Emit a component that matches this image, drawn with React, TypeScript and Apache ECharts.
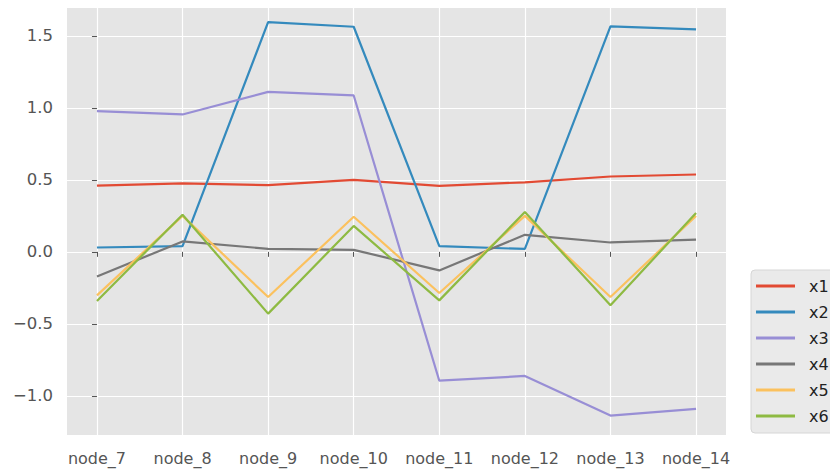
import React, { useEffect, useRef } from "react";
import * as echarts from "echarts";

const categories = ["node_7", "node_8", "node_9", "node_10", "node_11", "node_12", "node_13", "node_14"];
const seriesNames = ["x1", "x2", "x3", "x4", "x5", "x6"];
const x1 = [0.46, 0.475, 0.463, 0.5, 0.458, 0.483, 0.523, 0.537];
const x2 = [0.03, 0.04, 1.595, 1.563, 0.039, 0.02, 1.565, 1.545];
const x3 = [0.977, 0.954, 1.111, 1.086, -0.895, -0.862, -1.137, -1.091];
const x4 = [-0.171, 0.072, 0.021, 0.014, -0.129, 0.118, 0.065, 0.085];
const x5 = [-0.302, 0.25, -0.314, 0.244, -0.286, 0.25, -0.314, 0.25];
const x6 = [-0.341, 0.258, -0.429, 0.18, -0.337, 0.277, -0.371, 0.27];
const yTicks = [-1.0, -0.5, 0.0, 0.5, 1.0, 1.5];
const xTicks = [0, 1, 2, 3, 4, 5, 6, 7];
const colors = ["#E24A33", "#348ABD", "#988ED5", "#777777", "#FBC15E", "#8EBA42"];

export default function App() {
  const ref = useRef<HTMLDivElement>(null);
  useEffect(() => {
    if (!ref.current) return;
    const chart = echarts.init(ref.current, null, { renderer: "svg" });
    const all = [x1, x2, x3, x4, x5, x6];
    const font = "DejaVu Sans";
    chart.setOption({
      animation: false,
      backgroundColor: "#ffffff",
      color: colors,
      grid: {
        left: 67,
        right: 112,
        top: 3,
        bottom: 37,
        show: true,
        backgroundColor: "#E5E5E5",
        borderWidth: 0,
      },
      xAxis: {
        type: "value",
        min: -0.35,
        max: 7.35,
        axisLine: { show: false },
        axisTick: {
          show: true,
          customValues: xTicks,
          length: 5,
          lineStyle: { color: "#555555", width: 1 },
        },
        splitLine: { show: true, customValues: xTicks, lineStyle: { color: "#ffffff", width: 1.2 } },
        axisLabel: {
          customValues: xTicks,
          formatter: (v: number) => categories[Math.round(v)] ?? "",
          color: "#555555",
          fontFamily: font,
          fontSize: 16,
          margin: 15,
        },
      },
      yAxis: {
        type: "value",
        min: -1.272,
        max: 1.728,
        axisLine: { show: false },
        axisTick: {
          show: true,
          customValues: yTicks,
          length: 5,
          lineStyle: { color: "#555555", width: 1 },
        },
        splitLine: { show: true, customValues: yTicks, lineStyle: { color: "#ffffff", width: 1.2 } },
        axisLabel: {
          customValues: yTicks,
          formatter: (v: number) => v.toFixed(1).replace("-", "\u2212"),
          color: "#555555",
          fontFamily: font,
          fontSize: 16.5,
          margin: 14,
        },
      },
      legend: {
        orient: "vertical",
        left: 751,
        top: 270,
        padding: [8, 8, 9, 5],
        itemGap: 10,
        itemWidth: 39,
        itemHeight: 3,
        icon: "rect",
        backgroundColor: "#EAEAEA",
        borderColor: "#D6D6D6",
        borderWidth: 1,
        borderRadius: 4,
        data: seriesNames,
        textStyle: {
          fontFamily: font,
          fontSize: 16,
          color: "#222222",
          padding: [0, 0, 0, 9],
        },
      },
      series: seriesNames.map((name, i) => ({
        name,
        type: "line",
        symbol: "none",
        data: all[i].map((v, j) => [xTicks[j], v]),
        lineStyle: { width: 2.2, color: colors[i] },
        itemStyle: { color: colors[i] },
      })),
    });
    return () => chart.dispose();
  }, []);
  return <div ref={ref} style={{ width: 838, height: 472, marginLeft: -8, marginTop: -8 }} />;
}
